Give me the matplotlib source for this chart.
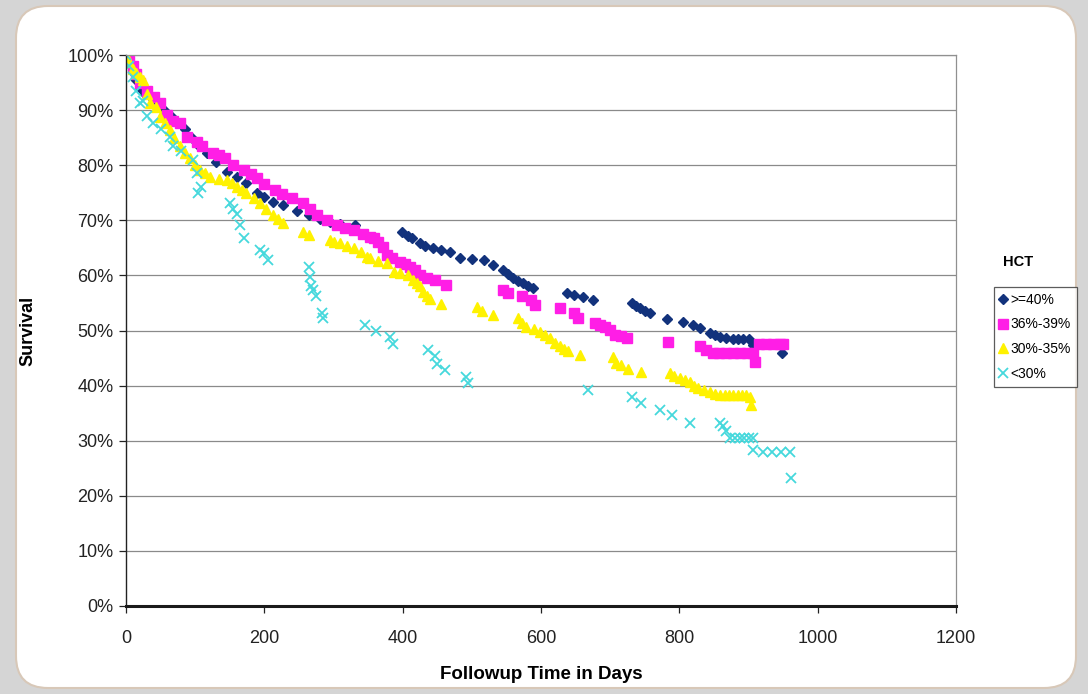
import numpy as np
import matplotlib
matplotlib.use("Agg")
import matplotlib.pyplot as plt
from matplotlib.patches import FancyBboxPatch
from matplotlib.ticker import PercentFormatter, MultipleLocator

plt.rcParams['font.family'] = ['Liberation Sans', 'DejaVu Sans']

# Kaplan-Meier style survival estimates: (day, survival %)
hct_40_plus = [
    (0, 100), (5, 98.5), (10, 97), (15, 95.5), (20, 94), (27, 93), (35, 92.5), (44, 91.8),
    (55, 90), (65, 89), (73, 87.9), (85, 86.5), (95, 85), (105, 83.5), (117, 82.3),
    (130, 80.5), (146, 78.8), (160, 77.8), (174, 76.7), (190, 75), (200, 74.2), (213, 73.4),
    (227, 72.8), (247, 71.6), (265, 71), (280, 70.3), (295, 69.7), (310, 69.4), (331, 69.1),
    (399, 67.9), (408, 67.1), (413, 66.7), (425, 65.9), (433, 65.4), (444, 64.9), (455, 64.6),
    (468, 64.3), (483, 63.2), (500, 63), (517, 62.8), (531, 61.9), (545, 61), (552, 60.3),
    (560, 59.5), (567, 59), (574, 58.6), (581, 58.1), (588, 57.7), (637, 56.8), (648, 56.4),
    (661, 56.0), (675, 55.5), (731, 55.0), (737, 54.5), (743, 54.0), (750, 53.6), (758, 53.1),
    (782, 52.1), (806, 51.6), (820, 51.0), (830, 50.4), (844, 49.5), (851, 49.2), (859, 48.9),
    (868, 48.6), (878, 48.5), (885, 48.5), (892, 48.5), (900, 48.4), (907, 47.4), (948, 45.9),
]
hct_36_39 = [
    (0, 100), (5, 99), (10, 98), (15, 96.5), (20, 95), (30, 93.5), (40, 92.3), (49, 91.2),
    (59, 89.1), (68, 88), (78, 87.6), (88, 85.2), (102, 84.3), (110, 83.5), (126, 82.2),
    (135, 81.8), (143, 81.3), (155, 80), (170, 79.1), (180, 78.4), (189, 77.6), (200, 76.5),
    (215, 75.5), (225, 74.8), (240, 74.0), (256, 73.1), (266, 72), (276, 71.0), (290, 70),
    (305, 69.1), (317, 68.6), (329, 68.2), (343, 67.6), (353, 67.0), (358, 66.7), (365, 66),
    (372, 65.2), (377, 63.7), (385, 63.2), (396, 62.5), (404, 62), (411, 61.6), (418, 61),
    (425, 60.1), (435, 59.6), (447, 59.2), (463, 58.3), (545, 57.4), (552, 56.8), (572, 56.2),
    (586, 55.5), (591, 54.6), (627, 54.0), (647, 53.1), (654, 52.2), (678, 51.3), (685, 51.0),
    (693, 50.7), (700, 50.1), (707, 49.2), (715, 49), (724, 48.6), (784, 48.0), (830, 47.1),
    (839, 46.5), (849, 45.9), (858, 45.9), (868, 45.9), (878, 45.9), (888, 45.9), (898, 45.9),
    (907, 45.9), (909, 44.3), (915, 47.6), (925, 47.6), (935, 47.6), (945, 47.6), (950, 47.6),
]
hct_30_35 = [
    (0, 100), (5, 98.8), (10, 97.5), (15, 96.8), (20, 96), (25, 95.5), (30, 93), (35, 91.2),
    (44, 90.5), (49, 88.8), (56, 87.6), (64, 86.4), (70, 85), (78, 83.4), (85, 82.3),
    (93, 81.3), (100, 80), (107, 79.1), (114, 78.5), (121, 77.9), (135, 77.5), (146, 77.3),
    (153, 76.7), (160, 76.1), (167, 75.5), (174, 74.9), (185, 74), (194, 73.1), (203, 72),
    (213, 71.0), (220, 70.2), (227, 69.5), (256, 67.9), (264, 67.3), (295, 66.4), (300, 66),
    (309, 65.8), (320, 65.3), (329, 64.9), (340, 64.2), (348, 63.4), (353, 63.1), (365, 62.7),
    (377, 62.2), (387, 60.7), (396, 60.4), (408, 60.1), (415, 59.2), (420, 58.6), (425, 58.0),
    (430, 57), (435, 56.2), (440, 55.8), (456, 54.9), (507, 54.3), (515, 53.6), (531, 52.8),
    (567, 52.2), (572, 51.4), (579, 50.7), (590, 50.2), (599, 49.8), (606, 49.2), (613, 48.6),
    (620, 47.8), (627, 47.1), (633, 46.6), (639, 46.2), (656, 45.6), (704, 45.2), (709, 44.1),
    (716, 43.8), (726, 43.1), (745, 42.5), (786, 42.2), (793, 41.7), (801, 41.3), (808, 41),
    (815, 40.7), (821, 40), (827, 39.5), (835, 39.2), (844, 38.9), (852, 38.5), (859, 38.3),
    (866, 38.3), (872, 38.3), (878, 38.3), (885, 38.3), (891, 38.3), (897, 38.3), (902, 38.0),
    (903, 36.5),
]
hct_below_30 = [
    (0, 100), (5, 98), (10, 96), (15, 93.5), (20, 91.2), (25, 91.7), (30, 89), (39, 87.6),
    (50, 86.5), (64, 85.2), (68, 83.4), (80, 82.5), (97, 80.9), (102, 78.5), (108, 76),
    (104, 74.9), (150, 73.1), (155, 72), (160, 71.2), (165, 69.1), (170, 66.7), (194, 64.6),
    (200, 64), (206, 62.8), (264, 61.6), (266, 59.8), (268, 58.0), (270, 57.4), (275, 56.3),
    (283, 53.2), (285, 52.3), (346, 51.0), (361, 49.9), (382, 48.9), (386, 47.5), (437, 46.5),
    (447, 45.3), (450, 44.0), (461, 42.8), (492, 41.6), (495, 40.4), (668, 39.2), (731, 38.0),
    (745, 36.8), (772, 35.6), (789, 34.7), (815, 33.2), (859, 33.2), (863, 32.6), (868, 31.7),
    (873, 30.4), (880, 30.4), (887, 30.4), (894, 30.4), (900, 30.4), (907, 30.4), (907, 28.3),
    (921, 28.0), (934, 28.0), (947, 28.0), (960, 28.0), (962, 23.2),
]

series_labels = ['>=40%', '36%-39%', '30%-35%', '<30%']
x_ticks = [0, 200, 400, 600, 800, 1000, 1200]

W, H = 1088, 694
fig = plt.figure(figsize=(W / 100, H / 100), dpi=100, facecolor='#d5d5d5')

# rounded white card behind the chart (pixel coordinates)
bg = fig.add_axes([0, 0, 1, 1], zorder=-5)
bg.set_xlim(0, W)
bg.set_ylim(H, 0)
bg.axis('off')
bg.add_patch(FancyBboxPatch((16, 6), 1060, 682, boxstyle="round,pad=0,rounding_size=32",
                            facecolor='white', edgecolor='#d8c8b8', linewidth=1.5))

ax = fig.add_axes([126 / W, 1 - 606 / H, (956 - 126) / W, (606 - 55) / H])
ax.set_facecolor('none')

styles = [
    dict(marker='D', color='#12327c', markersize=5.5, mec='#12327c'),
    dict(marker='s', color='#ff1ee6', markersize=7, mec='#ff1ee6'),
    dict(marker='^', color='#fff200', markersize=7.5, mec='#fff200'),
    dict(marker='x', color='#45d8dc', markersize=7, mew=1.3),
]
handles = []
for data, lab, st in zip([hct_40_plus, hct_36_39, hct_30_35, hct_below_30], series_labels, styles):
    d = np.array(data)
    h, = ax.plot(d[:, 0], d[:, 1], linestyle='none', label=lab, **st)
    handles.append(h)

ax.set_xlim(0, 1200)
ax.set_ylim(0, 100)
ax.set_xticks(x_ticks)
ax.yaxis.set_major_locator(MultipleLocator(10))
ax.yaxis.set_major_formatter(PercentFormatter(xmax=100, decimals=0))
ax.grid(axis='y', color='#8a8a8a', linewidth=0.9)
ax.set_axisbelow(True)

for s in ['top', 'right']:
    ax.spines[s].set_color('#909090')
    ax.spines[s].set_linewidth(0.9)
ax.spines['left'].set_color('#222222')
ax.spines['left'].set_linewidth(1.0)
ax.spines['bottom'].set_color('#1a1a1a')
ax.spines['bottom'].set_linewidth(2.2)

ax.tick_params(axis='both', direction='out', length=5, width=0.9, colors='#222222', labelsize=13)
ax.tick_params(axis='x', pad=12)
ax.tick_params(axis='y', pad=4)

ax.set_xlabel('Followup Time in Days', fontsize=13.5, fontweight='bold', labelpad=14)
ax.set_ylabel('Survival', fontsize=13, fontweight='bold', labelpad=22)

fig.text(1018 / W, 1 - 262 / H, 'HCT', fontsize=10.5, fontweight='bold', ha='center', va='center')
leg = fig.legend(handles=handles, loc='upper left', bbox_to_anchor=(994 / W, 1 - 287 / H),
                 numpoints=1, frameon=True, fancybox=False, fontsize=10,
                 handlelength=0.5, handletextpad=0.3, borderpad=0.4, labelspacing=0.78,
                 borderaxespad=0)
leg.get_frame().set_edgecolor('#333333')
leg.get_frame().set_linewidth(0.9)

fig.savefig('out.png', dpi=100, facecolor=fig.get_facecolor())
